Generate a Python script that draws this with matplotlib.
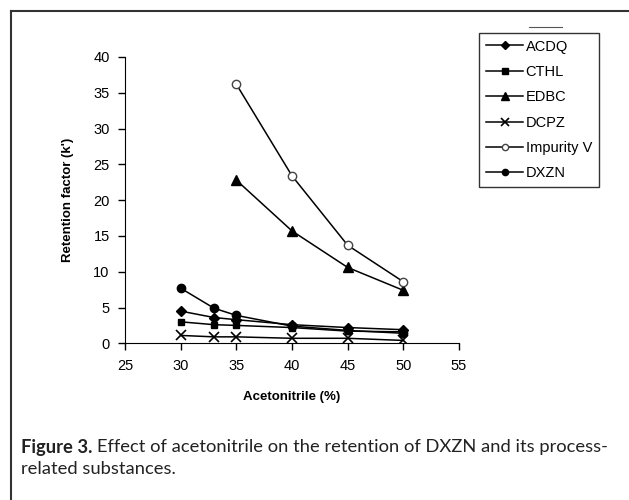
import matplotlib.pyplot as plt
from matplotlib.lines import Line2D

# data
acn = [30, 33, 35, 40, 45, 50]
acn_late = [35, 40, 45, 50]

acdq = [4.5, 3.6, 3.3, 2.6, 2.2, 1.9]
cthl = [3.0, 2.6, 2.5, 2.2, 1.7, 1.6]
edbc = [22.8, 15.7, 10.6, 7.4]
dcpz = [1.1, 0.9, 0.9, 0.7, 0.7, 0.4]
impurity_v = [36.2, 23.4, 13.7, 8.6]
dxzn = [7.7, 4.9, 3.9, 2.4, 1.8, 1.4]

plt.rcParams['font.family'] = ['Liberation Sans', 'DejaVu Sans']

fig = plt.figure(figsize=(6.29, 5.0), dpi=100)
ax = fig.add_axes([0.1987, 0.3134, 0.531, 0.5726])

lw = 1.1
ax.plot(acn, acdq, color='black', lw=lw, marker='D', ms=5, label='ACDQ')
ax.plot(acn, cthl, color='black', lw=lw, marker='s', ms=5, label='CTHL')
ax.plot(acn_late, edbc, color='black', lw=lw, marker='^', ms=7, label='EDBC')
ax.plot(acn, dcpz, color='black', lw=lw, marker='x', ms=7, mew=1.2, label='DCPZ')
ax.plot(acn_late, impurity_v, color='black', lw=lw, marker='o', ms=6,
        mfc='white', mec='#444444', label='Impurity V')
ax.plot(acn, dxzn, color='black', lw=lw, marker='o', ms=6, label='DXZN')

ax.set_xlim(25, 55)
ax.set_ylim(0, 40)
ax.set_xticks(range(25, 56, 5))
ax.set_yticks(range(0, 41, 5))
ax.spines['top'].set_visible(False)
ax.spines['right'].set_visible(False)
ax.tick_params(direction='out', length=5, width=1, labelsize=10.5, pad=6)
ax.set_xlabel('Acetonitrile (%)', fontsize=9.5, fontweight='bold', labelpad=13)
ax.set_ylabel("Retention factor (k')", fontsize=9.5, fontweight='bold', labelpad=14)

leg = ax.legend(loc='upper left', bbox_to_anchor=(479 / 629, 1 - 33 / 500),
                bbox_transform=fig.transFigure, fontsize=10.5, frameon=True,
                fancybox=False, edgecolor='black', handlelength=2.6,
                handletextpad=0.15, labelspacing=0.78, borderpad=0.45,
                markerscale=0.75, borderaxespad=0)
leg.get_frame().set_linewidth(1.0)

# outer frame and stray line above the legend
fig.add_artist(Line2D([11 / 629, 1], [1 - 11 / 500, 1 - 11 / 500],
                      color='#333333', lw=1.5, transform=fig.transFigure))
fig.add_artist(Line2D([11 / 629, 11 / 629], [0, 1 - 11 / 500],
                      color='#333333', lw=1.5, transform=fig.transFigure))
fig.add_artist(Line2D([529 / 629, 562 / 629], [1 - 27 / 500, 1 - 27 / 500],
                      color='#555555', lw=0.8, transform=fig.transFigure))

# caption: bold lead-in, then the rest placed right after it
cap = ['Lato', 'DejaVu Sans']
y1 = 1 - 447 / 500
lead = fig.text(21 / 629, y1, 'Figure 3.', fontsize=13.2, fontweight='bold',
                family=cap, color='#222222', va='center')
renderer = fig.canvas.get_renderer()
bb = lead.get_window_extent(renderer=renderer)
fig.text(bb.x1 / fig.bbox.width + 5 / 629, y1,
         'Effect of acetonitrile on the retention of DXZN and its process-',
         fontsize=13.2, family=cap, color='#222222', va='center')
fig.text(21 / 629, 1 - 469 / 500, 'related substances.', fontsize=13.2,
         family=cap, color='#222222', va='center')

fig.savefig('out.png', dpi=100)
